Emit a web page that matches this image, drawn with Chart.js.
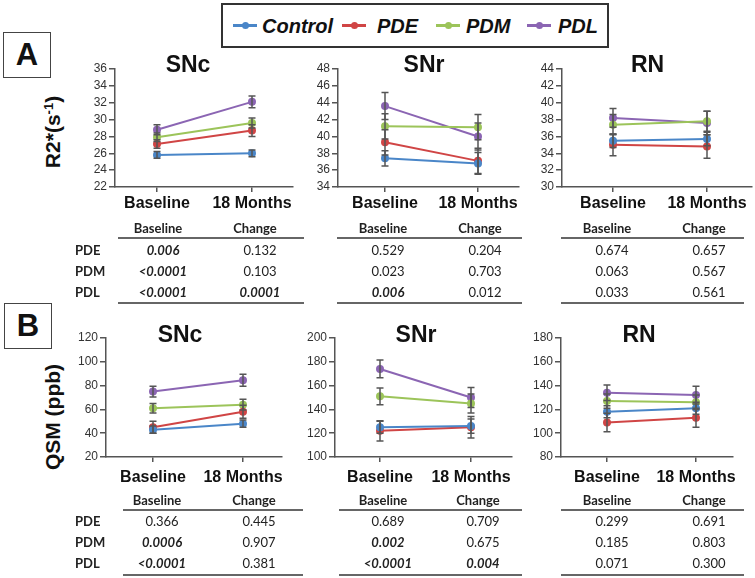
<!DOCTYPE html>
<html><head><meta charset="utf-8">
<script src="https://cdn.jsdelivr.net/npm/chart.js@4.4.0/dist/chart.umd.min.js"></script>
<style>
body{margin:0;background:#fff;width:755px;height:578px;position:relative;overflow:hidden;font-family:Arial,"Liberation Sans",sans-serif;color:#111;}
.c{position:absolute;transform:translate(-50%,-50%);line-height:1;white-space:nowrap;}
.cv{position:absolute;}
.title{font-weight:bold;font-size:23px;}
.panel{position:absolute;border:1.5px solid #444;width:48px;height:46px;box-sizing:border-box;font-weight:bold;font-size:31px;display:flex;align-items:center;justify-content:center;}
.ytitle{position:absolute;transform:translate(-50%,-50%) rotate(-90deg);font-weight:bold;font-size:21px;white-space:nowrap;line-height:1;}
.tb{position:absolute;transform:translate(-50%,-50%);line-height:1;white-space:nowrap;font-family:Lato,"Open Sans",sans-serif;font-size:13px;color:#222;}
.tl{position:absolute;height:2px;background:#666;}
#legend{position:absolute;left:221px;top:3px;width:388px;height:45px;box-sizing:border-box;border:2px solid #333;}
.li{position:absolute;top:50%;transform:translateY(-50%);font-weight:bold;font-style:italic;font-size:20px;line-height:1;}
.ll{position:absolute;top:50%;height:3px;margin-top:-1.5px;width:24px;}
.ld{position:absolute;top:50%;width:7px;height:7px;margin-top:-3.5px;margin-left:-3.5px;border-radius:50%;}
</style></head><body>
<div id="legend"></div>
<div class="panel" style="left:3px;top:32px;">A</div>
<div class="panel" style="left:4px;top:303px;">B</div>
<div class="ytitle" style="left:52px;top:132px;">R2*(s<sup style="font-size:13px;vertical-align:7px">-1</sup>)</div>
<div class="ytitle" style="left:52px;top:417px;">QSM (ppb)</div>
<script>
// ---------- data ----------
const categories = ['Baseline', '18 Months'];
const groups = ['Control', 'PDE', 'PDM', 'PDL'];

// Panel A: R2* (s^-1), rows = Control, PDE, PDM, PDL ; cols = Baseline, 18 Months
const r2SNcMean = [[25.8, 26.0], [27.1, 28.7], [27.9, 29.6], [28.8, 32.1]];
const r2SNcErr  = [[0.4, 0.4], [0.5, 0.7], [0.5, 0.6], [0.6, 0.7]];
const r2SNrMean = [[37.4, 36.8], [39.3, 37.1], [41.2, 41.1], [43.6, 40.0]];
const r2SNrErr  = [[0.9, 1.3], [1.5, 1.5], [1.5, 1.5], [1.6, 1.6]];
const r2RNMean  = [[35.5, 35.7], [35.0, 34.8], [37.4, 37.8], [38.2, 37.6]];
const r2RNErr   = [[0.8, 0.8], [1.3, 1.4], [1.2, 1.2], [1.1, 1.4]];

// Panel B: QSM (ppb)
const qsmSNcMean = [[43, 48], [45, 58], [61, 64], [75, 84.5]];
const qsmSNcErr  = [[3, 3], [5, 5.5], [4, 4.5], [4.5, 5]];
const qsmSNrMean = [[125, 126], [122, 125], [151, 145], [174, 150]];
const qsmSNrErr  = [[5, 6], [8.5, 9], [7, 8], [7.5, 8.5]];
const qsmRNMean  = [[118, 121], [109, 113], [127, 126], [134, 132]];
const qsmRNErr   = [[5, 5], [7.8, 8], [6, 6], [6.5, 7.5]];

// y tick labels
const r2SNcTicks = [22, 24, 26, 28, 30, 32, 34, 36];
const r2SNrTicks = [34, 36, 38, 40, 42, 44, 46, 48];
const r2RNTicks  = [30, 32, 34, 36, 38, 40, 42, 44];
const qsmSNcTicks = [20, 40, 60, 80, 100, 120];
const qsmSNrTicks = [100, 120, 140, 160, 180, 200];
const qsmRNTicks  = [80, 100, 120, 140, 160, 180];

// p-value tables: rows PDE, PDM, PDL ; cols Baseline, Change
const tableRows = ['PDE', 'PDM', 'PDL'];
const tableHead = ['Baseline', 'Change'];
const r2SNcP = [['0.006', '0.132'], ['<0.0001', '0.103'], ['<0.0001', '0.0001']];
const r2SNrP = [['0.529', '0.204'], ['0.023', '0.703'], ['0.006', '0.012']];
const r2RNP  = [['0.674', '0.657'], ['0.063', '0.567'], ['0.033', '0.561']];
const qsmSNcP = [['0.366', '0.445'], ['0.0006', '0.907'], ['<0.0001', '0.381']];
const qsmSNrP = [['0.689', '0.709'], ['0.002', '0.675'], ['<0.0001', '0.004']];
const qsmRNP  = [['0.299', '0.691'], ['0.185', '0.803'], ['0.071', '0.300']];

const titles = ['SNc', 'SNr', 'RN'];

// ---------- styles ----------
const colors = ['#4a86c8', '#d04545', '#9cc45a', '#8b65b3'];
const FONT = 'Arial, "Liberation Sans", sans-serif';

// legend
const legend = document.getElementById('legend');
const legPos = [[10, 39], [119, 154], [213, 243], [304, 335]];
groups.forEach((g, i) => {
  const l = document.createElement('div'); l.className = 'll'; l.style.left = legPos[i][0] + 'px'; l.style.background = colors[i]; legend.appendChild(l);
  const d = document.createElement('div'); d.className = 'ld'; d.style.left = (legPos[i][0] + 12) + 'px'; d.style.background = colors[i]; legend.appendChild(d);
  const t = document.createElement('div'); t.className = 'li'; t.style.left = legPos[i][1] + 'px'; t.textContent = g; legend.appendChild(t);
});

const errorBars = {
  id: 'errorBars',
  afterDatasetsDraw(chart) {
    const { ctx, scales: { x, y } } = chart;
    ctx.save();
    ctx.strokeStyle = '#555'; ctx.lineWidth = 1.5;
    chart.data.datasets.forEach(ds => {
      ds.data.forEach((p, j) => {
        const e = ds.errors[j];
        const px = x.getPixelForValue(p.x);
        const yt = y.getPixelForValue(p.y + e), yb = y.getPixelForValue(p.y - e);
        ctx.beginPath();
        ctx.moveTo(px, yt); ctx.lineTo(px, yb);
        ctx.moveTo(px - 3.5, yt); ctx.lineTo(px + 3.5, yt);
        ctx.moveTo(px - 3.5, yb); ctx.lineTo(px + 3.5, yb);
        ctx.stroke();
      });
    });
    ctx.restore();
  }
};

function makeChart(means, errs, yTicks, L) {
  const yW = 45, padR = 45, padT = 15, xH = 40;
  const w = yW + (L.right - L.ax) + padR;
  const h = padT + (L.bottom - L.top) + xH;
  const cv = document.createElement('canvas');
  cv.className = 'cv';
  cv.style.left = (L.ax - yW) + 'px'; cv.style.top = (L.top - padT) + 'px';
  cv.style.width = w + 'px'; cv.style.height = h + 'px';
  cv.width = w; cv.height = h;
  document.body.appendChild(cv);
  const unit = L.mo - L.base;
  const xmin = -(L.base - L.ax) / unit, xmax = 1 + (L.right - L.mo) / unit;
  new Chart(cv, {
    type: 'line',
    data: {
      datasets: groups.map((g, i) => ({
        label: g,
        data: means[i].map((v, j) => ({ x: j, y: v })),
        errors: errs[i],
        borderColor: colors[i], backgroundColor: colors[i],
        borderWidth: 2, pointRadius: 3, pointHoverRadius: 3, tension: 0
      }))
    },
    options: {
      responsive: false, animation: false, devicePixelRatio: 1,
      layout: { padding: { top: padT, right: padR, left: 0, bottom: 0 } },
      plugins: { legend: { display: false }, tooltip: { enabled: false } },
      scales: {
        x: {
          type: 'linear', min: xmin, max: xmax,
          afterBuildTicks: s => { s.ticks = categories.map((c, i) => ({ value: i })); },
          afterFit: s => { s.height = xH; },
          ticks: { callback: v => categories[v], font: { family: FONT, size: 16, weight: 'bold' }, color: '#111', padding: L.lp, maxRotation: 0, autoSkip: false },
          grid: { drawOnChartArea: false, tickLength: 5, color: '#555', lineWidth: 1.5 },
          border: { color: '#555', width: 1.5 }
        },
        y: {
          min: yTicks[0], max: yTicks[yTicks.length - 1],
          afterBuildTicks: s => { s.ticks = yTicks.map(v => ({ value: v })); },
          afterFit: s => { s.width = yW; },
          ticks: { font: { family: FONT, size: 12 }, color: '#333', padding: 2, autoSkip: false },
          grid: { drawOnChartArea: false, tickLength: 6, color: '#555', lineWidth: 1.5 },
          border: { color: '#555', width: 1.5 }
        }
      }
    },
    plugins: [errorBars]
  });
}

const layA = [
  { ax: 115, base: 157, mo: 252, right: 293, top: 68.5, bottom: 187, lp: 2 },
  { ax: 338, base: 385, mo: 478, right: 519, top: 68.5, bottom: 187, lp: 2 },
  { ax: 562, base: 613, mo: 707, right: 752, top: 68.5, bottom: 187, lp: 2 }
];
const layB = [
  { ax: 106, base: 153, mo: 243, right: 282, top: 338, bottom: 457, lp: 6 },
  { ax: 335, base: 380, mo: 471, right: 512, top: 338, bottom: 457, lp: 6 },
  { ax: 561, base: 607, mo: 696, right: 733, top: 338, bottom: 457, lp: 6 }
];
makeChart(r2SNcMean, r2SNcErr, r2SNcTicks, layA[0]);
makeChart(r2SNrMean, r2SNrErr, r2SNrTicks, layA[1]);
makeChart(r2RNMean, r2RNErr, r2RNTicks, layA[2]);
makeChart(qsmSNcMean, qsmSNcErr, qsmSNcTicks, layB[0]);
makeChart(qsmSNrMean, qsmSNrErr, qsmSNrTicks, layB[1]);
makeChart(qsmRNMean, qsmRNErr, qsmRNTicks, layB[2]);

// titles
function addText(cls, txt, x, y, extra) {
  const d = document.createElement('div'); d.className = cls; d.innerHTML = txt;
  d.style.left = x + 'px'; d.style.top = y + 'px';
  if (extra) Object.assign(d.style, extra);
  document.body.appendChild(d); return d;
}
[[188, 63.5], [424, 63.5], [647.5, 63.5]].forEach((p, i) => addText('c title', titles[i], p[0], p[1]));
[[180, 333.5], [416, 333.5], [639, 333.5]].forEach((p, i) => addText('c title', titles[i], p[0], p[1]));

// tables
function isSig(s) { return parseFloat(s.replace('<', '')) < 0.01; }
function makeTable(vals, T) {
  tableHead.forEach((hd, j) => addText('tb', hd, T.cols[j], T.yHead, { fontWeight: 'bold' }));
  [T.yLine, T.yBottom].forEach(yy => {
    const l = document.createElement('div'); l.className = 'tl';
    l.style.left = T.x0 + 'px'; l.style.width = (T.x1 - T.x0) + 'px'; l.style.top = (yy - 1) + 'px';
    document.body.appendChild(l);
  });
  vals.forEach((row, i) => row.forEach((v, j) => {
    const sig = isSig(v);
    addText('tb', v, T.cols[j] + 5, T.yRows[i], sig ? { fontWeight: 'bold', fontStyle: 'italic' } : {});
  }));
}
function rowLabels(yRows) { tableRows.forEach((r, i) => addText('tb', r, 75, yRows[i], { fontWeight: 'bold', transform: 'translate(0,-50%)' })); }
const aRows = [250, 271, 292], bRows = [521, 542, 563];
makeTable(r2SNcP, { cols: [158, 255], x0: 118, x1: 304, yHead: 228, yLine: 237.5, yBottom: 302.5, yRows: aRows });
makeTable(r2SNrP, { cols: [383, 480], x0: 337, x1: 522, yHead: 228, yLine: 237.5, yBottom: 302.5, yRows: aRows });
makeTable(r2RNP, { cols: [607, 704], x0: 561, x1: 744, yHead: 228, yLine: 237.5, yBottom: 302.5, yRows: aRows });
makeTable(qsmSNcP, { cols: [157, 254], x0: 123, x1: 303, yHead: 500, yLine: 510, yBottom: 575, yRows: bRows });
makeTable(qsmSNrP, { cols: [383, 478], x0: 339, x1: 522, yHead: 500, yLine: 510, yBottom: 575, yRows: bRows });
makeTable(qsmRNP, { cols: [607, 704], x0: 561, x1: 744, yHead: 500, yLine: 510, yBottom: 575, yRows: bRows });
rowLabels(aRows); rowLabels(bRows);
</script>
</body></html>
